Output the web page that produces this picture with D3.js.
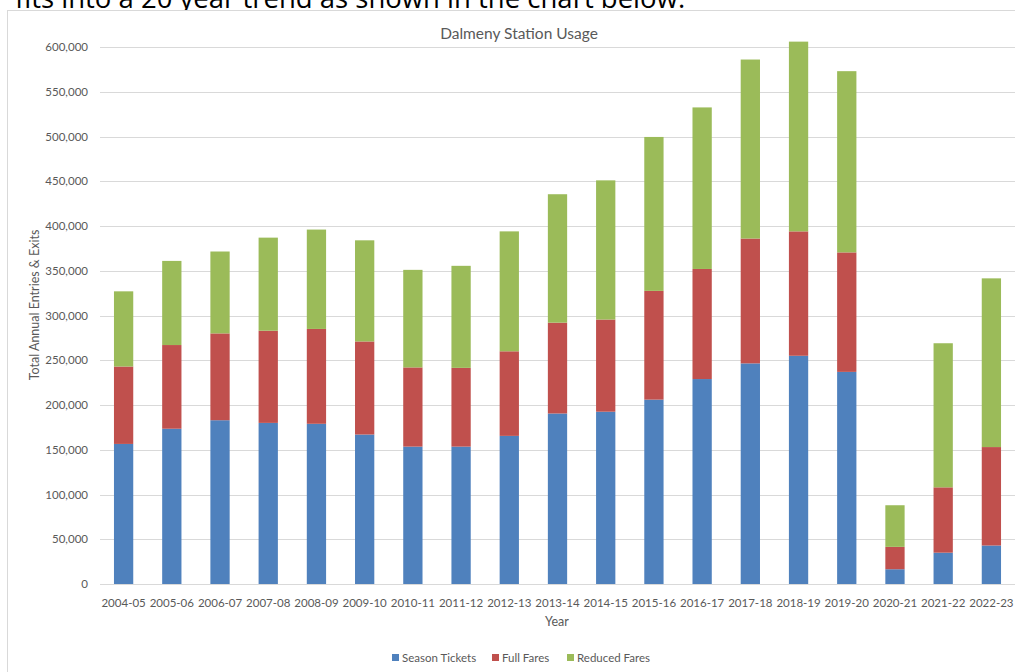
<!DOCTYPE html>
<html><head><meta charset="utf-8">
<script src="https://cdn.jsdelivr.net/npm/d3@7"></script>
<style>
html,body{margin:0;padding:0;background:#fff;overflow:hidden}
</style></head>
<body>
<svg id="c" width="1015" height="672"></svg>
<script>
const categories = ["2004-05","2005-06","2006-07","2007-08","2008-09","2009-10","2010-11","2011-12","2012-13","2013-14","2014-15","2015-16","2016-17","2017-18","2018-19","2019-20","2020-21","2021-22","2022-23"];
const seasonTickets = [156500,173500,183000,180000,179000,167000,153500,153500,165500,190500,192500,206000,229000,246500,255000,237000,16500,35000,43000];
const fullFares     = [86500,93500,97000,103000,106000,104000,88500,88000,94500,101500,103000,121500,123000,139500,139000,133500,25000,73000,110000];
const reducedFares  = [84000,94000,91500,104000,111000,113000,109000,114000,134000,143500,155500,172000,180500,200000,212000,202500,46500,161000,188500];
const seriesNames = ["Season Tickets","Full Fares","Reduced Fares"];
const yTicks = [0,50000,100000,150000,200000,250000,300000,350000,400000,450000,500000,550000,600000];
const colors = ["#4f81bd","#c0504d","#9bbb59"];

const svg = d3.select("#c");
const font = "Lato, 'Open Sans', sans-serif";

// top text from the page (partly cut off by the screenshot, as in the reference)
svg.append("text").attr("x",15).attr("y",8)
  .attr("font-family","'Open Sans', sans-serif").attr("font-size",27.5).attr("fill","#000")
  .text("fits into a 20 year trend as shown in the chart below.");

// chart frame
svg.append("rect").attr("x",7.5).attr("y",10.5).attr("width",1040).attr("height",700)
  .attr("fill","#fff").attr("stroke","#d9d9d9").attr("stroke-width",1);

const x = d3.scaleBand().domain(categories).range([99.5,1015.5]).paddingInner(0.6).paddingOuter(0.3);
const y = d3.scaleLinear().domain([0,600000]).range([584,47]);

// gridlines
svg.append("g").selectAll("line").data(yTicks).join("line")
  .attr("x1",100).attr("x2",1015).attr("y1",d=>Math.round(y(d))+0.5).attr("y2",d=>Math.round(y(d))+0.5)
  .attr("stroke","#d9d9d9").attr("stroke-width",1);

// y tick labels
svg.append("g").selectAll("text").data(yTicks).join("text")
  .attr("x",88).attr("y",d=>y(d)+4).attr("text-anchor","end")
  .attr("font-family",font).attr("font-size",11.5).attr("fill","#595959")
  .text(d=>d3.format(",")(d));

// stacked data
const rows = categories.map((c,i)=>({cat:c, s:seasonTickets[i], f:fullFares[i], r:reducedFares[i]}));
const stack = d3.stack().keys(["s","f","r"])(rows);

svg.append("g").selectAll("g").data(stack).join("g")
  .attr("fill",(d,i)=>colors[i])
  .selectAll("rect").data(d=>d).join("rect")
  .attr("x",d=>x(d.data.cat)).attr("width",x.bandwidth())
  .attr("y",d=>y(d[1])).attr("height",d=>y(d[0])-y(d[1]));

// x tick labels
svg.append("g").selectAll("text").data(categories).join("text")
  .attr("x",d=>x(d)+x.bandwidth()/2).attr("y",607).attr("text-anchor","middle")
  .attr("font-family",font).attr("font-size",11.5).attr("fill","#595959")
  .text(d=>d);

// title
svg.append("text").attr("x",519).attr("y",39).attr("text-anchor","middle")
  .attr("font-family",font).attr("font-size",15.5).attr("fill","#595959")
  .text("Dalmeny Station Usage");

// axis titles
svg.append("text").attr("x",557).attr("y",626).attr("text-anchor","middle")
  .attr("font-family",font).attr("font-size",12.5).attr("fill","#595959").text("Year");
svg.append("text").attr("transform","translate(39,305) rotate(-90)").attr("text-anchor","middle")
  .attr("font-family",font).attr("font-size",12.5).attr("fill","#595959").text("Total Annual Entries & Exits");

// legend
const legX = [392,492,567];
const lg = svg.append("g").selectAll("g").data(seriesNames).join("g")
  .attr("transform",(d,i)=>`translate(${legX[i]},654)`);
lg.append("rect").attr("width",7).attr("height",7).attr("fill",(d,i)=>colors[i]);
lg.append("text").attr("x",10).attr("y",7.5).attr("font-family",font).attr("font-size",11.5)
  .attr("fill","#595959").text(d=>d);
</script>
</body></html>
